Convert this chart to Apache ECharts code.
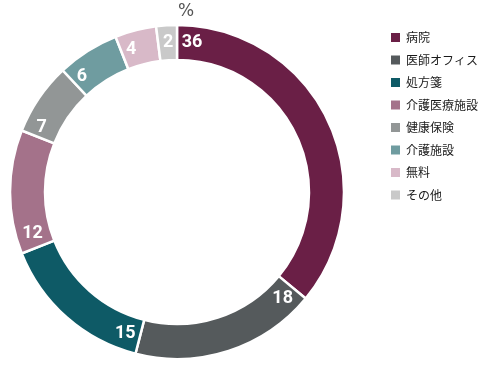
<!DOCTYPE html>
<html><head><meta charset="utf-8">
<script src="https://cdn.jsdelivr.net/npm/echarts@6/dist/echarts.min.js"></script>
<style>html,body{margin:0;padding:0;background:#fff}#c{width:491px;height:365px}</style>
</head><body><div id="c"></div>
<script>
var categories = ['病院','医師オフィス','処方箋','介護医療施設','健康保険','介護施設','無料','その他'];
var values = [36, 18, 15, 12, 7, 6, 4, 2];
var colors = ['#6a1f46','#555a5c','#0e5a66','#a4728a','#929696','#6f9ca0','#d8b9c8','#c9c9c9'];
var unitLabel = '%';

var chart = echarts.init(document.getElementById('c'), null, {renderer:'canvas'});
var series = categories.map(function(name, i){
  return {
    type:'bar', coordinateSystem:'polar', stack:'s', name:name,
    data:[values[i]], barWidth:'100%',
    itemStyle:{color:colors[i], borderColor:'#fff', borderWidth:2.5},
    label:{show:true, position:'insideStart', rotate:0, align:'center', verticalAlign:'middle',
      distance: String(values[i]).length * 5 + 5,
      formatter:'{c}', color:'#fff',
      fontFamily:'Roboto,sans-serif', fontWeight:'bold', fontSize:18}
  };
});
chart.setOption({
  animation:false,
  title:{text:unitLabel, left:178, top:3, padding:0, textStyle:{color:'#555', fontSize:17, fontWeight:'normal', fontFamily:'"DejaVu Sans",sans-serif'}},
  polar:{center:[177,192], radius:[132,167]},
  angleAxis:{type:'value', min:0, max:100, startAngle:90, clockwise:true, show:false},
  radiusAxis:{type:'category', data:['a'], show:false},
  legend:{orient:'vertical', left:384, top:26, itemWidth:11, itemHeight:11, itemGap:9.5, icon:'rect',
    textStyle:{fontSize:12, color:'#1a1a1a', fontFamily:'"Noto Sans CJK JP",sans-serif'}, data:categories},
  series:series
});
</script></body></html>
